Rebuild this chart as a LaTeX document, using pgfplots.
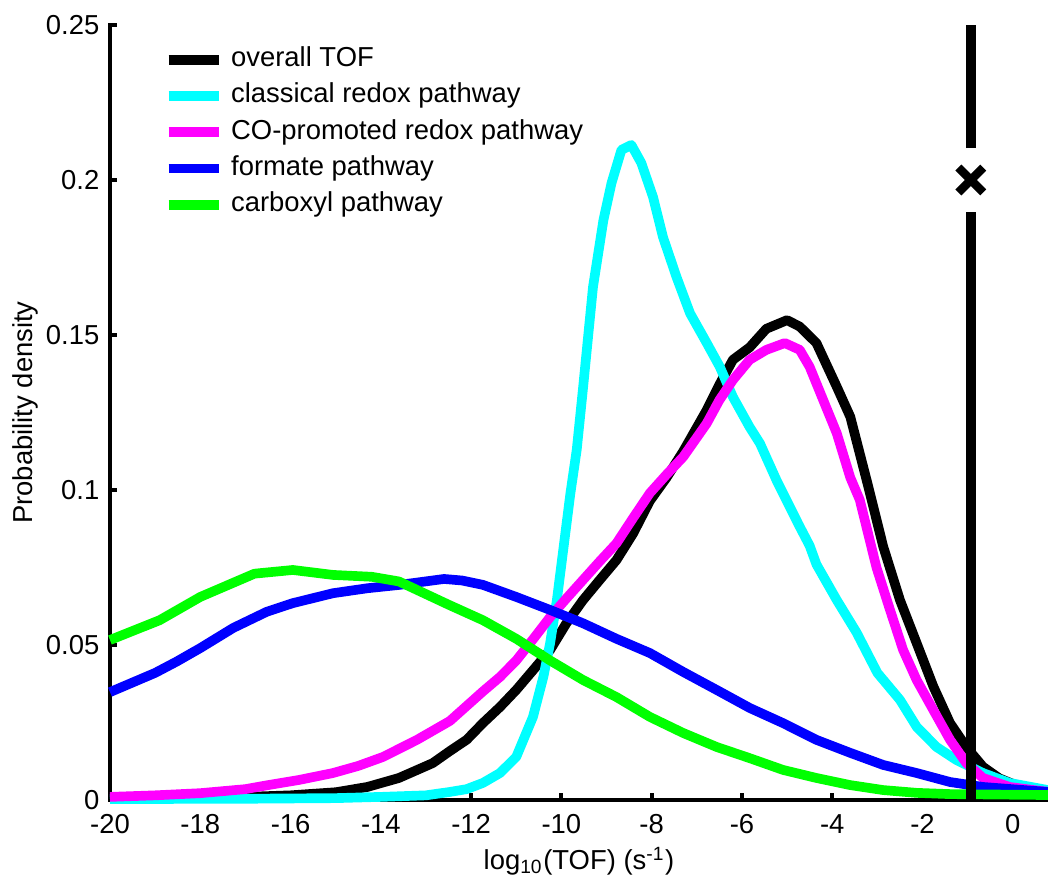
\documentclass[border=0pt]{standalone}
\usepackage{fontspec}
\setmainfont{Liberation Sans}
\usepackage{pgfplots}
\pgfplotsset{compat=1.18}
\definecolor{ccyan}{RGB}{0,255,255}
\definecolor{cmag}{RGB}{255,0,255}
\definecolor{cblue}{RGB}{0,0,255}
\definecolor{cgreen}{RGB}{0,255,0}
\newcommand{\fs}{\fontsize{7.8}{9}\selectfont}
\begin{document}
\begin{tikzpicture}
\begin{axis}[
  width=93.8mm, height=77.5mm, scale only axis,
  xmin=-20, xmax=0.78, ymin=0, ymax=0.25,
  clip=false,
  axis lines=left,
  axis line style={-, line width=1.1pt, line cap=rect},
  tick align=inside,
  major tick length=0.7mm,
  tick style={line width=1.1pt, black},
  xtick={-20,-18,...,0},
  xticklabels={-20,-18,-16,-14,-12,-10,-8,-6,-4,-2,0},
  ytick={0,0.05,0.1,0.15,0.2,0.25},
  yticklabels={0,0.05,0.1,0.15,0.2,0.25},
  xticklabel style={font=\fs, inner sep=0pt, anchor=north, yshift=-1.4mm},
  yticklabel style={font=\fs, inner sep=0pt, anchor=east, xshift=-1mm},
  xlabel={log\textsubscript{10}(TOF) (s\textsuperscript{-1})},
  ylabel={Probability density},
  every axis x label/.style={at={(axis description cs:0.5,-0.0903)}, anchor=base, font=\fs},
  every axis y label/.style={at={(axis description cs:-0.0821,0.5)}, anchor=base, rotate=90, font=\fs},
  legend cell align=left,
  legend style={at={(rel axis cs:0.0565,0.973)}, anchor=north west, draw=none, fill=none, font=\fs,
    inner sep=0pt, row sep=1.03mm,
    nodes={inner sep=0pt, text height=2.0mm, text depth=0.6mm},
    /tikz/every odd column/.append style={column sep=0.7mm}},
  legend image code/.code={\draw[#1, line width=2.8pt] (0mm,0mm) -- (5.06mm,0mm);},
  every axis plot/.append style={line width=2.75pt, line join=round},
]
% overall TOF
\addplot[black] coordinates {
(-20,0.0005) (-19,0.0006) (-18,0.0008) (-17,0.001) (-16,0.0015) (-15,0.0025) (-14.3,0.0042) (-13.6,0.0071)
(-12.85,0.0119) (-12.47,0.0158) (-12.1,0.0194) (-11.74,0.0248) (-11.36,0.030) (-11.0,0.0355) (-10.62,0.042)
(-10.25,0.0484) (-9.89,0.057) (-9.52,0.0645) (-9.15,0.071) (-8.78,0.0774) (-8.41,0.086) (-8.04,0.0965)
(-7.67,0.104) (-7.3,0.1125) (-6.78,0.1258) (-6.5,0.134) (-6.2,0.142) (-5.83,0.146) (-5.46,0.152) (-5.0,0.1548)
(-4.72,0.1527) (-4.35,0.1474) (-3.9,0.1333) (-3.6,0.1236) (-3.2,0.101) (-2.87,0.0817) (-2.5,0.0645)
(-2.13,0.0506) (-1.76,0.0366) (-1.39,0.0248) (-1.03,0.0171) (-0.66,0.0107) (-0.3,0.007) (0,0.0052) (0.4,0.0035) (0.78,0.0025)
};
\addlegendentry{overall TOF}
% classical redox
\addplot[ccyan] coordinates {
(-20,0.0003) (-17,0.0004) (-15,0.0006) (-14,0.001) (-13,0.0015) (-12.47,0.0026) (-12.1,0.0035) (-11.74,0.0055)
(-11.36,0.0087) (-11.0,0.0139) (-10.63,0.0268) (-10.4,0.0397) (-10.25,0.0506) (-10.1,0.0645) (-9.96,0.0806)
(-9.8,0.099) (-9.66,0.113) (-9.52,0.133) (-9.3,0.1655) (-9.07,0.187) (-8.89,0.199) (-8.67,0.2097) (-8.45,0.2113)
(-8.23,0.2055) (-7.97,0.1945) (-7.75,0.1816) (-7.45,0.1687) (-7.15,0.157) (-6.78,0.1474) (-6.49,0.1397)
(-6.2,0.13) (-5.83,0.1203) (-5.6,0.115) (-5.23,0.103) (-4.75,0.089) (-4.5,0.082) (-4.35,0.076) (-3.9,0.0645)
(-3.46,0.054) (-3.0,0.041) (-2.5,0.0323) (-2.13,0.0236) (-1.69,0.0171) (-1.25,0.0129) (-0.66,0.0087)
(-0.07,0.0055) (0.78,0.0032)
};
\addlegendentry{classical redox pathway}
% CO-promoted
\addplot[cmag] coordinates {
(-20,0.001) (-19,0.0015) (-18,0.0022) (-17,0.0035) (-16.5,0.0048) (-15.8,0.0065) (-15.06,0.0087) (-14.5,0.011)
(-13.95,0.0139) (-13.2,0.0194) (-12.47,0.0255) (-11.74,0.035) (-11.36,0.0397) (-11.0,0.045) (-10.62,0.052)
(-10.25,0.059) (-9.89,0.065) (-9.52,0.071) (-9.15,0.077) (-8.78,0.0828) (-8.41,0.091) (-8.04,0.099)
(-7.67,0.105) (-7.3,0.1107) (-6.78,0.1215) (-6.5,0.129) (-6.2,0.1355) (-5.83,0.142) (-5.46,0.1452)
(-5.05,0.1474) (-4.72,0.1452) (-4.5,0.1397) (-4.2,0.129) (-3.9,0.1183) (-3.6,0.104) (-3.39,0.0968)
(-3.02,0.075) (-2.72,0.0613) (-2.43,0.0484) (-2.13,0.0387) (-1.76,0.029) (-1.39,0.0194) (-1.03,0.0119)
(-0.66,0.0071) (-0.07,0.0042) (0.78,0.0026)
};
\addlegendentry{CO-promoted redox pathway}
% formate
\addplot[cblue] coordinates {
(-20,0.0348) (-19,0.041) (-18.53,0.0446) (-18,0.049) (-17.27,0.0555) (-16.53,0.0607) (-15.95,0.0635)
(-15.06,0.0667) (-14.3,0.0683) (-13.58,0.0694) (-12.6,0.0713) (-12.2,0.0708) (-11.74,0.0694) (-11.0,0.0655)
(-10.25,0.0613) (-9.52,0.057) (-8.78,0.052) (-8.04,0.0474) (-7.3,0.0413) (-6.56,0.0355) (-5.83,0.0297)
(-5.09,0.0248) (-4.35,0.0194) (-3.6,0.0152) (-2.87,0.0113) (-2.13,0.0087) (-1.39,0.0058) (-0.66,0.0042)
(0.78,0.0026)
};
\addlegendentry{formate pathway}
% carboxyl
\addplot[cgreen] coordinates {
(-20,0.0516) (-18.9,0.058) (-18,0.0655) (-16.8,0.073) (-15.95,0.0742) (-15.06,0.0726) (-14.2,0.072)
(-13.6,0.0705) (-12.5,0.063) (-11.74,0.058) (-11.0,0.052) (-10.25,0.045) (-9.52,0.0387) (-8.78,0.0332)
(-8.04,0.0268) (-7.3,0.0216) (-6.56,0.0171) (-5.83,0.0135) (-5.09,0.0097) (-4.35,0.0071) (-3.6,0.0048)
(-2.87,0.0032) (-2.13,0.0023) (-1.39,0.0019) (0.78,0.0016)
};
\addlegendentry{carboxyl pathway}
% vertical line and marker
\addplot[black, line width=2.8pt, forget plot] coordinates {(-0.93,0) (-0.93,0.1897)};
\addplot[black, line width=2.8pt, forget plot] coordinates {(-0.93,0.2103) (-0.93,0.25)};
\addplot[black, only marks, mark=x, mark size=5pt, mark options={line width=2.4pt}, forget plot] coordinates {(-0.93,0.2)};
\coordinate (sw) at (rel axis cs:0,0);
\coordinate (ne) at (rel axis cs:1,1);
\end{axis}
\pgfresetboundingbox
\path ([shift={(-11mm,-8.4mm)}]sw) rectangle ([shift={(0mm,2.5mm)}]ne);
\end{tikzpicture}
\end{document}
